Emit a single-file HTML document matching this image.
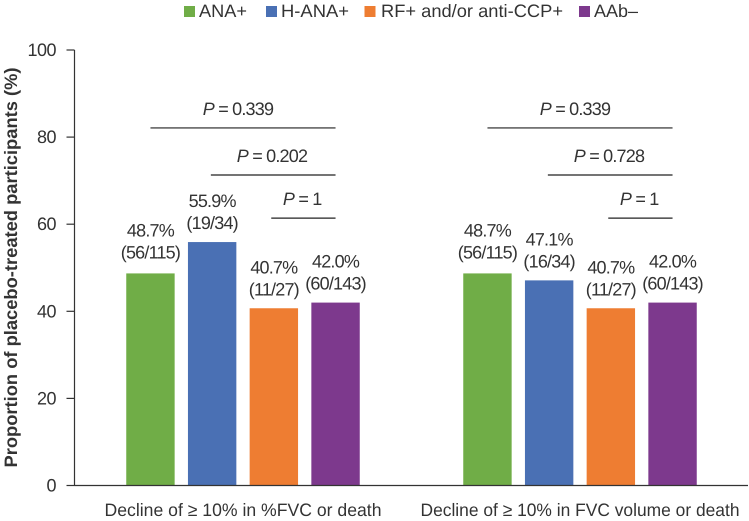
<!DOCTYPE html>
<html lang="en">
<head>
<meta charset="utf-8">
<title>Proportion of placebo-treated participants</title>
<style>
html,body{margin:0;padding:0;background:#fff;width:749px;height:521px;overflow:hidden}
svg{display:block}
text{font-family:"Liberation Sans",sans-serif;fill:#333;text-rendering:geometricPrecision}
.tick{font-size:18px;letter-spacing:-.5px}
.val{font-size:18px;letter-spacing:-.8px}
.pv{font-size:18px;letter-spacing:-.8px}
.leg{font-size:18px}
.cat{font-size:18px}
</style>
</head>
<body>
<svg id="chart" xmlns="http://www.w3.org/2000/svg" width="749" height="521" viewBox="0 0 749 521"></svg>
<script>
const groupLabels = ['Decline of \u2265 10% in %FVC or death', 'Decline of \u2265 10% in FVC volume or death'];
const seriesNames = ['ANA+', 'H-ANA+', 'RF+ and/or anti-CCP+', 'AAb\u2013'];
const seriesColors = ['#70AD47', '#4A70B4', '#EE7D32', '#7D398D'];
const valuesGroup1 = [48.7, 55.9, 40.7, 42.0];
const valuesGroup2 = [48.7, 47.1, 40.7, 42.0];
const countsGroup1 = ['(56/115)', '(19/34)', '(11/27)', '(60/143)'];
const countsGroup2 = ['(56/115)', '(16/34)', '(11/27)', '(60/143)'];
const yTicks = [0, 20, 40, 60, 80, 100];
const pValuesGroup1 = ['0.339', '0.202', '1'];
const pValuesGroup2 = ['0.339', '0.728', '1'];
const pLevels = [82.1, 71.3, 61.4];
const pStartSeries = [0, 1, 2];

const NS = 'http://www.w3.org/2000/svg';
const svg = document.getElementById('chart');
const axisLeft = 74.5, axisBottom = 485.5, pxPerUnit = 4.355, groupStep = 337, barStep = 61.7, barWidth = 48.4;
const yScale = v => axisBottom - v * pxPerUnit;
const groupCenter = g => axisLeft + (g + 0.5) * groupStep;
const barCenter = (g, s) => groupCenter(g) + (s - 1.5) * barStep;

function make(tag, attrs, text) {
  const el = document.createElementNS(NS, tag);
  for (const k in attrs) el.setAttribute(k, attrs[k]);
  if (text !== undefined) el.textContent = text;
  svg.appendChild(el);
  return el;
}

/* legend */
const legendSwatchX = [184, 266, 364.5, 579];
const legendTextX = [199, 281, 381, 594];
const legendTextWidth = [48, 68, 182, 44];
seriesNames.forEach((name, s) => {
  const sw = make('rect', {x: legendSwatchX[s], y: 6, width: 11, height: 11, fill: seriesColors[s]});
  
  
  const t = make('text', {x: legendTextX[s], y: 17, class: 'leg', textLength: legendTextWidth[s], lengthAdjust: 'spacingAndGlyphs'}, name);
  
  
});

/* y axis title */
const yTitle = make('text', {transform: 'translate(17,467.5) rotate(-90)', 'font-weight': 'bold', 'font-size': '18', textLength: '400', lengthAdjust: 'spacingAndGlyphs'}, 'Proportion of placebo-treated participants (%)');



/* bars and value labels */
const allValues = [valuesGroup1, valuesGroup2];
const allCounts = [countsGroup1, countsGroup2];
allValues.forEach((values, g) => {
  values.forEach((v, s) => {
    const top = yScale(v);
    const cx = barCenter(g, s);
    const bar = make('rect', {x: cx - barWidth / 2, y: top, width: barWidth, height: axisBottom - top, fill: seriesColors[s]});
    
    
    const gap = s === 0 ? 15 : 13;
    const pct = make('text', {x: cx, y: top - gap - 22, 'text-anchor': 'middle', class: 'val'}, v.toFixed(1) + '%');
    
    
    const cnt = make('text', {x: cx, y: top - gap, 'text-anchor': 'middle', class: 'val'}, allCounts[g][s]);
    
    
  });
});

/* axes */
const yAxis = make('line', {x1: axisLeft, x2: axisLeft, y1: yScale(100), y2: axisBottom, stroke: '#333', 'stroke-width': 1.2});


const xAxis = make('line', {x1: axisLeft, x2: axisLeft + 2 * groupStep - 0.5, y1: axisBottom, y2: axisBottom, stroke: '#333', 'stroke-width': 1.2});


yTicks.forEach(v => {
  const tick = make('line', {x1: axisLeft - 8, x2: axisLeft, y1: yScale(v), y2: yScale(v), stroke: '#333', 'stroke-width': 1.2});
  
  
  const label = make('text', {x: 56, y: yScale(v) + 6, 'text-anchor': 'end', class: 'tick'}, String(v));
  
  
});
groupLabels.forEach((label, g) => {
  const t = make('text', {x: groupCenter(g), y: 516, 'text-anchor': 'middle', class: 'cat', textLength: g === 0 ? 277 : 319, lengthAdjust: 'spacingAndGlyphs'}, label);
  
  
});

/* significance brackets */
[pValuesGroup1, pValuesGroup2].forEach((pvals, g) => {
  pvals.forEach((p, i) => {
    const x1 = barCenter(g, pStartSeries[i]) - i * 1.3;
    const x2 = barCenter(g, 3);
    const y = yScale(pLevels[i]);
    const line = make('line', {x1: x1, x2: x2, y1: y, y2: y, stroke: '#222', 'stroke-width': 1.2});
    
    
    const t = make('text', {x: (x1 + x2) / 2 + (i === 0 ? -5 : -1.2), y: y - 13, 'text-anchor': 'middle', class: 'pv'});
    
    
    const ital = document.createElementNS(NS, 'tspan');
    ital.setAttribute('font-style', 'italic');
    ital.textContent = 'P';
    t.appendChild(ital);
    t.appendChild(document.createTextNode(' = ' + p));
  });
});
</script>
</body>
</html>
